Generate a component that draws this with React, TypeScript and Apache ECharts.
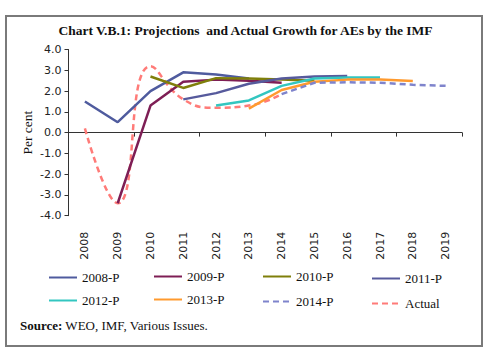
import React, { useEffect, useRef } from "react";
import * as echarts from "echarts";

const years = ["2008", "2009", "2010", "2011", "2012", "2013", "2014", "2015", "2016", "2017", "2018", "2019"];
const yTicks = [-4, -3, -2, -1, 0, 1, 2, 3, 4];

const p2008 = [1.5, 0.5, 2.0, 2.9, 2.8, 2.6, null, null, null, null, null, null];
const p2009 = [null, -3.4, 1.3, 2.45, 2.55, 2.5, 2.4, null, null, null, null, null];
const p2010 = [null, null, 2.7, 2.15, 2.62, 2.6, 2.55, 2.5, null, null, null, null];
const p2011 = [null, null, null, 1.6, 1.9, 2.35, 2.6, 2.7, 2.72, null, null, null];
const p2012 = [null, null, null, null, 1.3, 1.55, 2.25, 2.6, 2.65, 2.65, null, null];
const p2013 = [null, null, null, null, null, 1.15, 2.05, 2.45, 2.55, 2.55, 2.48, null];
const p2014 = [null, null, null, null, null, null, 1.85, 2.4, 2.42, 2.4, 2.3, 2.25];
const actual = [0.2, -3.4, 3.2, 1.6, 1.2, 1.3, 1.85, null, null, null, null, null];

const seriesDefs = [
  { name: "2008-P", data: p2008, color: "#4F5B9E", dashed: false },
  { name: "2009-P", data: p2009, color: "#7E1E55", dashed: false },
  { name: "2010-P", data: p2010, color: "#7F7F0A", dashed: false },
  { name: "2011-P", data: p2011, color: "#565A9C", dashed: false },
  { name: "2012-P", data: p2012, color: "#33C6C0", dashed: false },
  { name: "2013-P", data: p2013, color: "#FF9A2E", dashed: false },
  { name: "2014-P", data: p2014, color: "#7F84CC", dashed: true },
  { name: "Actual", data: actual, color: "#FF7B78", dashed: true, smooth: true },
];

const legendPos = [
  { left: 48, top: 271 },
  { left: 153, top: 270 },
  { left: 262, top: 270 },
  { left: 371, top: 272 },
  { left: 48, top: 294 },
  { left: 153, top: 293 },
  { left: 262, top: 295 },
  { left: 371, top: 297 },
];

export default function App() {
  const ref = useRef<HTMLDivElement>(null);
  useEffect(() => {
    if (!ref.current) return;
    const chart = echarts.init(ref.current, undefined, { renderer: "svg" });
    const serif = "'Liberation Serif', 'DejaVu Serif', serif";
    const sans = "'DejaVu Sans', sans-serif";
    chart.setOption({
      animation: false,
      backgroundColor: "#ffffff",
      title: {
        text: "Chart V.B.1: Projections  and Actual Growth for AEs by the IMF",
        left: "center",
        top: 18,
        textStyle: { fontFamily: serif, fontSize: 13.5, fontWeight: "bold", color: "#111" },
      },
      grid: { left: 68.5, right: 29, top: 49.5, bottom: 139.3, containLabel: false },
      xAxis: [
        {
          type: "category",
          data: years,
          boundaryGap: true,
          axisLine: { onZero: true, lineStyle: { color: "#333", width: 1 } },
          axisTick: { show: true, length: 4, alignWithLabel: false, lineStyle: { color: "#333" } },
          axisLabel: { show: false },
          splitLine: { show: false },
        },
        {
          type: "category",
          data: years,
          position: "bottom",
          boundaryGap: true,
          axisLine: { show: false, onZero: false },
          axisTick: { show: false },
          axisLabel: { show: true, rotate: 90, margin: 16, fontFamily: sans, fontSize: 11, color: "#222" },
          splitLine: { show: false },
        },
      ],
      yAxis: {
        type: "value",
        min: -4,
        max: 4,
        interval: 1,
        name: "Per cent",
        nameLocation: "middle",
        nameGap: 34,
        nameRotate: 90,
        nameMoveOverlap: false,
        nameTextStyle: { fontFamily: serif, fontSize: 13.5, color: "#111" },
        axisLine: { show: true, lineStyle: { color: "#333", width: 1 } },
        axisTick: { show: true, length: 4, lineStyle: { color: "#333" } },
        axisLabel: {
          margin: 7,
          fontFamily: sans,
          fontSize: 11,
          color: "#222",
          formatter: (v: number) => (yTicks.includes(v) ? v.toFixed(1) : ""),
        },
        splitLine: { show: false },
      },
      legend: seriesDefs.map((s, i) => ({
        data: [s.name],
        left: legendPos[i].left,
        top: legendPos[i].top,
        padding: 0,
        itemWidth: 28,
        itemHeight: 14,
        itemGap: 4,
        itemStyle: { opacity: 0 },
        textStyle: { fontFamily: serif, fontSize: 13, color: "#111" },
        selectedMode: false,
      })),
      series: seriesDefs.map((s) => ({
        name: s.name,
        type: "line",
        xAxisIndex: 0,
        data: s.data,
        symbol: "none",
        showSymbol: false,
        smooth: s.smooth ? 0.5 : false,
        connectNulls: false,
        color: s.color,
        lineStyle: {
          color: s.color,
          width: 2.5,
          type: s.dashed ? [6, 4] : "solid",
        },
        z: s.name === "Actual" ? 1 : 2,
      })),
      graphic: [
        {
          type: "rect",
          shape: { x: 6, y: 16, width: 476, height: 330 },
          style: { fill: "none", stroke: "#7a7a7a", lineWidth: 2 },
          silent: true,
        },
        {
          type: "text",
          left: 20,
          top: 319,
          style: {
            text: "{b|Source:} WEO, IMF, Various Issues.",
            rich: {
              b: { fontFamily: serif, fontSize: 13, fontWeight: "bold", fill: "#111" },
            },
            fontFamily: serif,
            fontSize: 13,
            fill: "#111",
          },
        },
      ],
    });
    return () => chart.dispose();
  }, []);
  return (
    <div
      ref={ref}
      style={{ position: "fixed", left: 0, top: 0, width: 491, height: 355 }}
    />
  );
}
